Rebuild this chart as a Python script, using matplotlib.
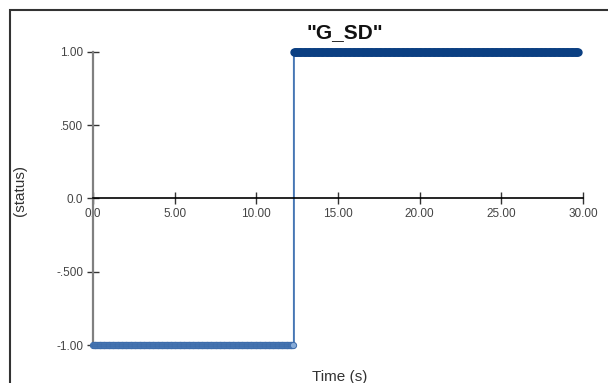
import numpy as np
import matplotlib
matplotlib.use("Agg")
import matplotlib.pyplot as plt
from matplotlib.patches import Rectangle

plt.rcParams["font.family"] = ["Liberation Sans", "DejaVu Sans"]

# logged G_SD status samples
sample_dt = 0.05
t_end = 29.7
switch_time = 12.3
levels = [-1.0, 1.0]

x_ticks = [0, 5, 10, 15, 20, 25, 30]
x_tick_labels = ["0.0", "5.00", "10.00", "15.00", "20.00", "25.00", "30.00"]
y_ticks = [-1.0, -0.5, 0.0, 0.5, 1.0]
y_tick_labels = ["-1.00", "-.500", "0.0", ".500", "1.00"]

time = np.arange(0, t_end + sample_dt / 2, sample_dt)
status = np.where(time < switch_time, levels[0], levels[1])

W, H = 608, 383
fig = plt.figure(figsize=(W / 100, H / 100), dpi=100)
ax = fig.add_axes([93 / W, 1 - 345 / H, 490 / W, 293 / H])

low = time < switch_time
high = ~low

# step line
ax.plot(time, status, color="#4676b4", lw=1.4, drawstyle="steps-post",
        clip_on=False, zorder=2)
ax.plot(time[low], status[low], ls="none", marker="o", ms=4.5,
        mfc="#86abd8", mec="#3d6cab", mew=0.7, clip_on=False, zorder=3)
ax.plot(time[high], status[high], color="#0b3f82", lw=4.5,
        solid_capstyle="round", marker="o", ms=5, mfc="#0b3f82",
        mec="#0b3f82", clip_on=False, zorder=3)

ax.set_xlim(0, 30)
ax.set_ylim(-1, 1)
ax.set_xticks(x_ticks, x_tick_labels)
ax.set_yticks(y_ticks, y_tick_labels)

for side in ("top", "right"):
    ax.spines[side].set_visible(False)
ax.spines["bottom"].set_position(("data", 0))
ax.spines["bottom"].set_color("black")
ax.spines["bottom"].set_linewidth(1.2)
ax.spines["left"].set_color("#808080")
ax.spines["left"].set_linewidth(1.6)
ax.patch.set_visible(False)

ax.tick_params(axis="x", direction="inout", length=8, width=1, color="#333333",
               labelsize=8.5, labelcolor="#444444", pad=3)
ax.tick_params(axis="y", direction="inout", length=8, width=1, color="#333333",
               labelsize=8.5, labelcolor="#444444", pad=3)

fig.text(345 / W, 1 - 33 / H, '"G_SD"', fontsize=15, fontweight="bold",
         ha="center", va="center", color="#111111")
fig.text(340 / W, 1 - 377 / H, "Time (s)", fontsize=11, ha="center",
         va="center", color="#333333")
fig.text(20 / W, 1 - 191 / H, "(status)", fontsize=11, rotation=90,
         ha="center", va="center", color="#333333")

# outer panel frame
fig.add_artist(Rectangle((10 / W, -0.2), 1.0, 1 - 10 / H + 0.2,
                         transform=fig.transFigure, fill=False,
                         edgecolor="#333333", lw=1.5))

fig.savefig("out.png", dpi=100)
